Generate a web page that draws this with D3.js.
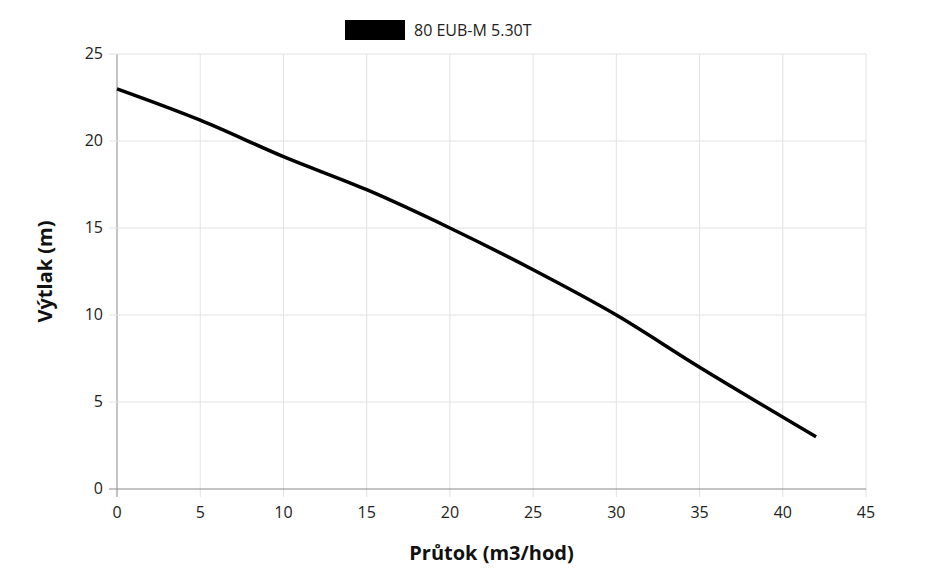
<!DOCTYPE html>
<html><head><meta charset="utf-8">
<script src="https://cdn.jsdelivr.net/npm/d3@7"></script>
<style>body{margin:0;background:#fff;font-family:"Open Sans",sans-serif;}</style>
</head><body><svg id="c" width="930" height="583"></svg>
<script>
const seriesName = "80 EUB-M 5.30T";
const flow = [0, 5, 10, 15, 20, 25, 30, 35, 42];
const head = [23, 21.2, 19.1, 17.2, 15, 12.6, 10, 7, 3];
const xTicks = [0,5,10,15,20,25,30,35,40,45];
const yTicks = [0,5,10,15,20,25];

const svg = d3.select("#c");
const L=117,R=866,T=54,B=489;
const x = d3.scaleLinear().domain([0,45]).range([L,R]);
const y = d3.scaleLinear().domain([0,25]).range([B,T]);

const g = svg.append("g");
g.selectAll(".vx").data(xTicks).enter().append("line")
 .attr("x1",d=>x(d)).attr("x2",d=>x(d)).attr("y1",T).attr("y2",B+8)
 .attr("stroke",d=>d===0?"#888":"#e2e2e2");
g.selectAll(".hy").data(yTicks).enter().append("line")
 .attr("y1",d=>y(d)).attr("y2",d=>y(d)).attr("x1",L-8).attr("x2",R)
 .attr("stroke",d=>d===0?"#888":"#e2e2e2");
g.selectAll(".xl").data(xTicks).enter().append("text")
 .attr("x",d=>x(d)).attr("y",B+29).attr("text-anchor","middle")
 .attr("font-size",16).attr("fill","#222").text(d=>d);
g.selectAll(".yl").data(yTicks).enter().append("text")
 .attr("x",L-14).attr("y",d=>y(d)+5).attr("text-anchor","end")
 .attr("font-size",16).attr("fill","#222").text(d=>d);

const line = d3.line().x((d,i)=>x(flow[i])).y(d=>y(d)).curve(d3.curveCatmullRom.alpha(0.5));
svg.append("path").attr("d",line(head)).attr("fill","none")
 .attr("stroke","#000").attr("stroke-width",3.5);

svg.append("rect").attr("x",345).attr("y",20).attr("width",60).attr("height",20).attr("fill","#000");
svg.append("text").attr("x",414).attr("y",36).attr("font-size",16).attr("fill","#222").text(seriesName);

svg.append("text").attr("x",(L+R)/2).attr("y",560).attr("text-anchor","middle")
 .attr("font-size",20).attr("font-weight","bold").attr("fill","#111").text("Průtok (m3/hod)");
svg.append("text").attr("transform",`translate(52,${(T+B)/2}) rotate(-90)`).attr("text-anchor","middle")
 .attr("font-size",20).attr("font-weight","bold").attr("fill","#111").text("Výtlak (m)");
</script></body></html>
